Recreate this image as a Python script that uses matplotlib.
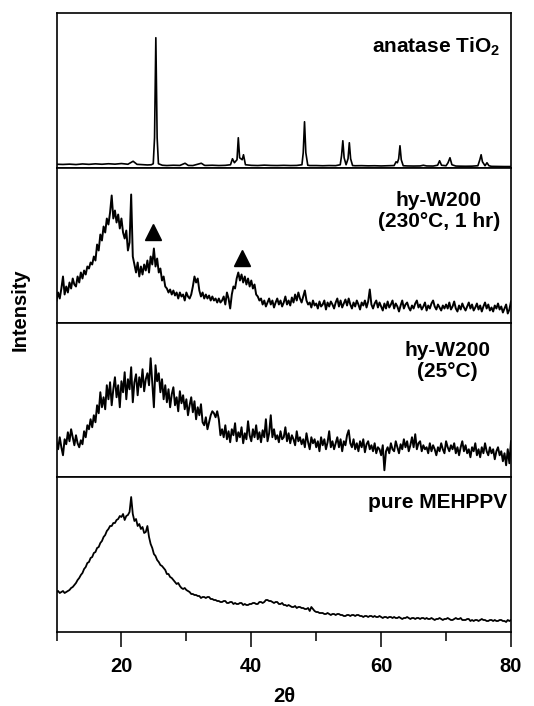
import numpy as np
import matplotlib
matplotlib.use("Agg")
import matplotlib.pyplot as plt

plt.rcParams['font.family'] = ['Liberation Sans', 'DejaVu Sans']
plt.rcParams['font.weight'] = 'bold'
plt.rcParams['mathtext.fontset'] = 'custom'
plt.rcParams['mathtext.rm'] = 'Liberation Sans:bold'
plt.rcParams['mathtext.bf'] = 'Liberation Sans:bold'

# ---------------- data (intensity in arbitrary units, panel height ~155) ----------------
panel_labels = ['anatase TiO$_{\\mathbf{2}}$', 'hy-W200\n(230°C, 1 hr)', 'hy-W200\n(25°C)', 'pure MEHPPV']

anatase_2theta = [10, 11, 12, 13, 14, 15, 16, 17, 18, 19, 20, 21, 21.8, 22.4, 23, 24, 24.6,
                  24.9, 25.1, 25.3, 25.5, 25.7, 26.3, 27, 28, 29, 29.8, 30.3, 31, 32.3, 32.8, 33, 34,
                  35, 36, 36.8, 37.1, 37.4, 37.8, 38.0, 38.2, 38.6, 38.8, 39.1, 40, 41, 42, 43, 44,
                  45, 46, 47, 47.8, 48.0, 48.2, 48.4, 48.7, 49, 50, 51, 52, 53, 53.7, 53.9, 54.1,
                  54.3, 54.6, 54.9, 55.1, 55.3, 55.6, 56, 57, 58, 59, 60, 61, 62, 62.3, 62.5, 62.7,
                  62.9, 63.1, 63.4, 64, 65, 66, 66.5, 67, 68, 68.7, 69.0, 69.3, 70.0, 70.3, 70.6,
                  70.9, 71.5, 72, 73, 74, 74.9, 75.2, 75.4, 75.6, 76.0, 76.3, 76.6, 77, 78, 79, 80]
anatase_int = [3.5, 3.3, 3.6, 3.2, 3.8, 3.4, 3.9, 3.5, 4.0, 3.6, 4.2, 3.5, 6.5, 3.4, 3.2, 2.8, 3.0,
               4, 30, 130, 30, 4, 2.5, 2.2, 2.5, 2.3, 4.5, 2.3, 2.2, 4.5, 2.4, 2.3, 2.5,
               2.2, 2.4, 3, 9, 5, 8, 30, 10, 8, 13, 3, 2.4, 2.2, 2.6, 2.3, 2.2,
               2.4, 2.2, 2.3, 3, 15, 46, 15, 2.5, 2.2, 2.2, 2.0, 2.2, 2.1, 3, 12, 27,
               10, 3, 9, 25, 9, 2.2, 2.0, 2.1, 1.9, 2.0, 1.8, 2.0, 2.2, 6, 5, 9,
               22, 8, 2.0, 1.8, 1.7, 1.8, 2.5, 1.8, 1.7, 2.5, 7, 2.5, 2.0, 5, 10,
               3, 1.7, 1.6, 1.5, 1.6, 2, 8, 13, 6, 2, 5, 2, 1.4, 1.3, 1.2, 1.2]

# hy-W200 (230 C, 1 hr), step 0.25 deg from 10 to 80
w200_230 = [22, 30, 24, 34, 46, 28, 36, 30, 40, 34, 44, 38, 36, 46, 40, 50,
            44, 52, 48, 56, 54, 60, 58, 66, 62, 78, 72, 88, 82, 96, 90, 104,
            98, 110, 127, 104, 112, 100, 108, 94, 104, 90, 84, 92, 72, 80, 128, 66,
            58, 50, 60, 46, 56, 48, 58, 52, 62, 50, 66, 58, 74, 56, 64, 50,
            54, 42, 46, 36, 34, 30, 33, 28, 32, 27, 30, 24, 30, 26, 28, 22,
            30, 26, 24, 28, 36, 46, 40, 44, 32, 26, 30, 24, 28, 24, 27, 22,
            26, 22, 24, 20, 24, 20, 22, 26, 18, 30, 24, 14, 28, 36, 34, 44,
            50, 42, 48, 40, 46, 38, 44, 36, 42, 34, 38, 28, 26, 22, 24, 18,
            22, 16, 20, 24, 18, 22, 15, 20, 24, 18, 22, 16, 20, 26, 18, 22,
            17, 25, 20, 28, 22, 30, 24, 20, 26, 32, 22, 18, 20, 15, 22, 17,
            19, 14, 21, 16, 18, 22, 13, 20, 16, 21, 18, 14, 20, 24, 16, 22,
            15, 19, 23, 17, 24, 18, 14, 20, 16, 22, 18, 13, 20, 17, 22, 15,
            21, 33, 18, 14, 19, 22, 15, 20, 16, 12, 19, 14, 21, 15, 18, 22,
            14, 19, 16, 11, 17, 22, 14, 18, 20, 15, 12, 17, 14, 19, 22, 15,
            18, 13, 16, 20, 12, 17, 14, 19, 22, 16, 13, 18, 15, 12, 17, 14,
            18, 14, 20, 13, 16, 21, 14, 11, 17, 13, 19, 15, 12, 16, 20, 14,
            18, 12, 15, 19, 13, 17, 11, 16, 20, 14, 18, 12, 15, 11, 17, 14,
            19, 13, 16, 10, 14, 18, 9, 13, 21]

# hy-W200 (25 C), step 0.25 deg from 10 to 80
w200_25 = [35, 28, 40, 30, 22, 38, 33, 45, 36, 48, 40, 32, 42, 34, 30, 37,
           33, 46, 40, 52, 48, 58, 50, 62, 55, 72, 64, 85, 70, 80, 68, 92,
           78, 95, 72, 88, 100, 80, 92, 70, 96, 85, 105, 78, 98, 88, 110, 75,
           95, 103, 82, 100, 90, 108, 86, 98, 104, 92, 119, 95, 70, 112, 96, 104,
           85, 98, 78, 92, 75, 88, 70, 83, 90, 72, 80, 66, 86, 74, 82, 68,
           78, 62, 72, 80, 65, 76, 58, 70, 62, 73, 55, 52, 60, 48, 55, 62,
           66, 64, 60, 66, 58, 42, 48, 40, 52, 38, 46, 35, 48, 42, 54, 36,
           45, 40, 50, 34, 44, 38, 56, 42, 36, 48, 40, 52, 38, 45, 35, 47,
           40, 58, 36, 44, 62, 40, 48, 38, 42, 35, 46, 38, 40, 50, 36, 44,
           34, 42, 38, 32, 46, 36, 40, 33, 38, 30, 44, 35, 28, 40, 34, 38,
           30, 36, 26, 40, 32, 38, 28, 35, 46, 30, 36, 28, 34, 40, 30, 38,
           26, 36, 32, 42, 47, 34, 30, 38, 28, 34, 26, 36, 30, 38, 25, 33,
           36, 28, 32, 26, 34, 24, 30, 28, 22, 32, 7, 26, 30, 24, 34, 28,
           26, 36, 30, 24, 33, 28, 38, 30, 36, 26, 32, 40, 30, 43, 28, 34,
           36, 26, 32, 28, 30, 24, 34, 26, 32, 28, 22, 30, 26, 34, 28, 24,
           36, 30, 26, 32, 28, 34, 24, 30, 22, 30, 36, 26, 32, 24, 28, 20,
           30, 26, 34, 22, 28, 20, 30, 24, 34, 26, 22, 30, 24, 28, 18, 26,
           30, 22, 26, 16, 24, 12, 28, 14, 36]

# pure MEHPPV, step 0.25 deg from 10 to 80
mehppv = [40, 41, 39, 40, 41, 39, 40, 41, 42, 44, 45, 47, 49, 52, 54, 57,
          59, 63, 65, 69, 70, 74, 75, 79, 80, 84, 85, 89, 91, 95, 97, 101,
          103, 106, 106, 109, 109, 112, 113, 116, 115, 118, 112, 116, 117, 120, 135, 118,
          111, 113, 106, 108, 103, 105, 99, 100, 106, 95, 88, 84, 78, 76, 72, 70,
          67, 66, 64, 62, 58, 58, 55, 54, 52, 50, 48, 49, 46, 44, 43, 44,
          42, 41, 40, 38, 38, 37, 37, 36, 36, 34, 35, 35, 34, 35, 35, 33,
          33, 32, 32, 31, 31, 30, 30, 31, 31, 29, 29, 30, 30, 28, 29, 28,
          28, 29, 29, 27, 28, 27, 27, 28, 28, 29, 29, 28, 28, 30, 30, 29,
          30, 32, 32, 31, 31, 30, 29, 30, 30, 28, 28, 29, 27, 27, 26, 27,
          26, 25, 25, 26, 24, 25, 25, 24, 24, 23, 23, 24, 21, 25, 23, 21,
          20, 20, 19, 19, 19, 18, 18, 19, 18, 17, 18, 18, 17, 18, 18, 17,
          17, 16, 16, 17, 17, 16, 17, 17, 16, 17, 17, 16, 16, 15, 16, 16,
          15, 16, 16, 15, 16, 15, 15, 16, 15, 14, 15, 15, 14, 15, 15, 14,
          15, 14, 14, 15, 14, 13, 14, 14, 15, 14, 13, 14, 14, 13, 14, 14,
          13, 14, 14, 13, 14, 13, 13, 14, 13, 12, 13, 13, 14, 13, 12, 13,
          13, 14, 13, 12, 12, 13, 14, 13, 13, 14, 12, 12, 12, 13, 13, 11,
          12, 11, 12, 12, 11, 12, 13, 12, 12, 11, 11, 12, 12, 11, 12, 11,
          11, 12, 12, 11, 11, 10, 12, 11, 12]

triangle_2theta = [24.8, 38.6]
triangle_int = [91, 65]

# ---------------- figure ----------------
fig = plt.figure(figsize=(5.34, 7.06), dpi=100)
W, H = 534.0, 706.0
left, right = 56.5 / W, 511.0 / W
top_px = 13.0
panel_px = 154.75

series = [
    (np.array(anatase_2theta), np.array(anatase_int), 1.2),
    (10 + 0.25 * np.arange(len(w200_230)), np.array(w200_230), 1.4),
    (10 + 0.25 * np.arange(len(w200_25)), np.array(w200_25), 1.4),
    (10 + 0.25 * np.arange(len(mehppv)), np.array(mehppv), 1.3),
]

label_pos = [  # (x px right edge, y px center)
    (500, 47), (500, 211), (490, 361), (507, 503)
]

axes = []
for i, (x, y, lw) in enumerate(series):
    y0 = 1 - (top_px + (i + 1) * panel_px) / H
    ax = fig.add_axes([left, y0, right - left, panel_px / H])
    ax.plot(x, y, color='black', lw=lw)
    ax.set_xlim(10, 80)
    ax.set_ylim(0, panel_px)
    ax.set_yticks([])
    for sp in ax.spines.values():
        sp.set_linewidth(1.2)
    if i < 3:
        ax.set_xticks([])
    lx, ly = label_pos[i]
    ax.text(lx / W, 1 - ly / H, panel_labels[i], transform=fig.transFigure,
            ha='right', va='center', multialignment='center',
            fontsize=15, fontweight='bold', linespacing=1.15)
    axes.append(ax)

axes[1].plot(triangle_2theta, triangle_int, linestyle='none', marker='^',
             color='black', markersize=12)

ax = axes[3]
ax.set_xticks([20, 40, 60, 80])
ax.set_xticks([10, 30, 50, 70], minor=True)
ax.tick_params(axis='x', which='major', direction='out', length=11, width=1.1,
               labelsize=14.5, pad=7)
ax.tick_params(axis='x', which='minor', direction='out', length=6.5, width=1.1)
for lab in ax.get_xticklabels():
    lab.set_fontweight('bold')

fig.text(284 / W, 1 - 697 / H, '2θ', ha='center', va='center', fontsize=14.5, fontweight='bold')
fig.text(20 / W, 1 - 310 / H, 'Intensity', ha='center', va='center', rotation=90,
         fontsize=14.5, fontweight='bold')

fig.savefig('out.png', dpi=100)
